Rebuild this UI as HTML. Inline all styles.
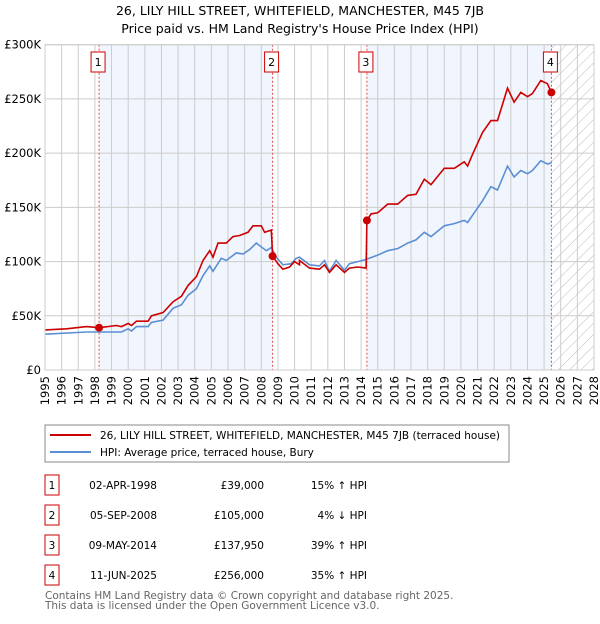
<!DOCTYPE html>
<html><head><meta charset="utf-8"><style>
body{margin:0;background:#fff;font-family:"DejaVu Sans","Liberation Sans",sans-serif;}
svg text{font-family:"DejaVu Sans","Liberation Sans",sans-serif;}
</style></head><body>
<svg id="c" width="600" height="620" xmlns="http://www.w3.org/2000/svg">
<defs><pattern id="hatch" width="8" height="8" patternUnits="userSpaceOnUse" patternTransform="rotate(45)"><rect width="8" height="8" fill="#fff"/><line x1="0" y1="0" x2="0" y2="8" stroke="#bbb" stroke-width="1"/></pattern></defs>
<text x="300" y="15" text-anchor="middle" font-size="12.5">26, LILY HILL STREET, WHITEFIELD, MANCHESTER, M45 7JB</text>
<text x="300" y="33" text-anchor="middle" font-size="12.5">Price paid vs. HM Land Registry's House Price Index (HPI)</text>
<g id="plot"></g>
<rect x="45" y="425" width="464" height="37" fill="#fff" stroke="#888"/>
<line x1="50" y1="435" x2="91" y2="435" stroke="#cc0000" stroke-width="2"/>
<text x="100" y="439" font-size="10.5">26, LILY HILL STREET, WHITEFIELD, MANCHESTER, M45 7JB (terraced house)</text>
<line x1="50" y1="452" x2="91" y2="452" stroke="#5b8fd4" stroke-width="2"/>
<text x="100" y="456" font-size="10.5">HPI: Average price, terraced house, Bury</text>
<g id="tbl" font-size="10.5"></g>
<text x="45" y="599" font-size="10.5" fill="#666">Contains HM Land Registry data © Crown copyright and database right 2025.</text>
<text x="45" y="609" font-size="10.5" fill="#666">This data is licensed under the Open Government Licence v3.0.</text>
</svg>
<script>
const hpiYears=[1995,1997.5,1998.25,1999.6,2000,2000.2,2000.5,2001.2,2001.4,2002.1,2002.7,2003.2,2003.6,2004.1,2004.5,2004.9,2005.1,2005.6,2005.9,2006.5,2006.9,2007.3,2007.7,2008.3,2008.6,2008.9,2009.3,2009.8,2010.1,2010.3,2010.9,2011.5,2011.8,2012.1,2012.5,2013,2013.3,2013.8,2014.3,2015,2015.6,2016.2,2016.8,2017.3,2017.8,2018.2,2019,2019.6,2020.2,2020.4,2020.8,2021.3,2021.8,2022.2,2022.8,2023.2,2023.6,2024,2024.3,2024.8,2025.2,2025.44];
const hpiValues=[33,35,35,35,38,36,40,40,44,46,57,60,69,75,87,96,91,103,101,108,107,111,117,110,113,104,97,98,103,104,97,96,101,91,101,92,98,100,102,106,110,112,117,120,127,123,133,135,138,136,145,156,169,166,188,178,184,181,184,193,190,191];
const propYears=[1995,1996.3,1997.5,1998.25,1999.3,1999.6,2000,2000.2,2000.5,2001.2,2001.4,2002.1,2002.7,2003.2,2003.6,2004.1,2004.5,2004.9,2005.1,2005.4,2005.9,2006.3,2006.7,2007.2,2007.5,2008,2008.2,2008.6,2008.68,2009,2009.3,2009.7,2010,2010.3,2010.3,2010.9,2011.5,2011.8,2012.1,2012.5,2013,2013.3,2013.8,2014.3,2014.35,2014.6,2015,2015.6,2016.2,2016.8,2017.3,2017.8,2018.2,2019,2019.6,2020.2,2020.4,2020.7,2021.3,2021.8,2022.2,2022.8,2023.2,2023.6,2024,2024.3,2024.8,2025.2,2025.44];
const propValues=[37,38,40,39,41,40,43,41,45,45,50,53,63,68,78,86,101,110,104,117,117,123,124,127,133,133,127,129,105,98,93,95,100,97,101,94,93,97,90,97,90,94,95,94,138,144,145,153,153,161,162,176,171,186,186,192,188,199,219,230,230,260,247,256,252,255,267,264,256];
const saleIds=["1","2","3","4"];
const saleYears=[1998.25,2008.68,2014.35,2025.44];
const saleValues=[39,105,137.95,256];
const saleDates=["02-APR-1998","05-SEP-2008","09-MAY-2014","11-JUN-2025"];
const salePrices=["£39,000","£105,000","£137,950","£256,000"];
const saleHpi=["15% ↑ HPI","4% ↓ HPI","39% ↑ HPI","35% ↑ HPI"];
const yTicks=[0,50,100,150,200,250,300];
const yTickLabels=["£0","£50K","£100K","£150K","£200K","£250K","£300K"];
const NS="http://www.w3.org/2000/svg";
const X0=45,X1=594,Y0=370,Y1=44.7,YR0=1995,YR1=2028,VMAX=300;
const xs=y=>X0+(y-YR0)/(YR1-YR0)*(X1-X0);
const ys=v=>Y0-v/VMAX*(Y0-Y1);
const g=document.getElementById('plot');
function mk(t,a,p){const e=document.createElementNS(NS,t);for(const k in a)e.setAttribute(k,a[k]);(p||g).appendChild(e);return e;}
let e;
e=mk('rect',{x:X0,y:Y1,width:X1-X0,height:Y0-Y1,fill:'#fff'});


for(const [a,b] of [[0,1],[2,3]]){
e=mk('rect',{x:xs(saleYears[a]),y:Y1,width:xs(saleYears[b])-xs(saleYears[a]),height:Y0-Y1,fill:'#eef3fc',opacity:0.8});


}
e=mk('rect',{x:xs(saleYears[3]),y:Y1,width:X1-xs(saleYears[3]),height:Y0-Y1,fill:'url(#hatch)'});


for(let yr=YR0;yr<=YR1;yr++){
e=mk('line',{x1:xs(yr),x2:xs(yr),y1:Y1,y2:Y0,stroke:'#ccc','stroke-width':1});


const tx=xs(yr)+4,ty=Y0+6;
e=mk('text',{x:tx,y:ty,'font-size':11.5,'text-anchor':'end',transform:`rotate(-90 ${tx} ${ty})`});
e.textContent=yr;


}
yTicks.forEach((v,i)=>{
e=mk('line',{x1:X0,x2:X1,y1:ys(v),y2:ys(v),stroke:'#ccc','stroke-width':1});


e=mk('text',{x:X0-4,y:ys(v)+4,'font-size':11.5,'text-anchor':'end'});
e.textContent=yTickLabels[i];


});
saleYears.forEach((yr,i)=>{
e=mk('line',{x1:xs(yr),x2:xs(yr),y1:Y1,y2:Y0,stroke:'#e05050','stroke-width':1,'stroke-dasharray':'2,2'});


});
const pts=(xa,va)=>xa.map((x,i)=>xs(x).toFixed(1)+','+ys(va[i]).toFixed(1)).join(' ');
e=mk('polyline',{points:pts(hpiYears,hpiValues),fill:'none',stroke:'#5b8fd4','stroke-width':1.6});


e=mk('polyline',{points:pts(propYears,propValues),fill:'none',stroke:'#cc0000','stroke-width':1.6});


saleYears.forEach((yr,i)=>{
e=mk('circle',{cx:xs(yr),cy:ys(saleValues[i]),r:4,fill:'#cc0000'});


const bx=xs(yr)-8;
e=mk('rect',{x:bx,y:52,width:14,height:20,fill:'#fff',stroke:'#cc0000'});


e=mk('text',{x:bx+7,y:66,'font-size':11,'text-anchor':'middle'});
e.textContent=saleIds[i];


});
e=mk('rect',{x:X0,y:Y1,width:X1-X0,height:Y0-Y1,fill:'none',stroke:'#ccc'});


const t=document.getElementById('tbl');
saleIds.forEach((id,i)=>{
const cy=483+i*30;
e=mk('rect',{x:45,y:cy-8,width:14,height:20,fill:'#fff',stroke:'#cc0000'},t);


e=mk('text',{x:52,y:cy+6,'text-anchor':'middle'},t);e.textContent=id;


e=mk('text',{x:157,y:cy+6,'text-anchor':'end'},t);e.textContent=saleDates[i];


e=mk('text',{x:264,y:cy+6,'text-anchor':'end'},t);e.textContent=salePrices[i];


e=mk('text',{x:367,y:cy+6,'text-anchor':'end'},t);e.textContent=saleHpi[i];


});
</script>
</body></html>
